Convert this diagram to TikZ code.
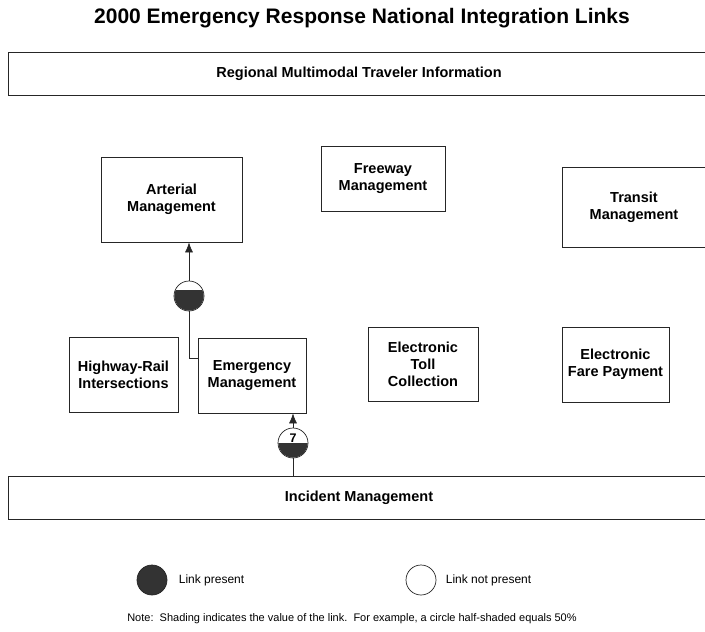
\documentclass[tikz,border=0pt]{standalone}
\usepackage{fontspec}
\setmainfont{Liberation Sans}
\usetikzlibrary{arrows.meta,positioning}

\begin{document}
\begin{tikzpicture}[x=1pt,y=-1pt,>=Latex,
sys box/.style={draw=black!85,line width=0.7pt,align=center,inner sep=0pt,font=\fontsize{14.5}{17}\selectfont\bfseries},
band box/.style={sys box,minimum width=702pt,minimum height=43pt},
link dot/.style={draw=black!85,line width=0.7pt,circle,minimum size=30pt,inner sep=0pt},
flow/.style={-{Latex[length=10pt,width=8pt]},line width=0.7pt,draw=black!85},
plain link/.style={line width=0.7pt,draw=black!85},
legend text/.style={anchor=west,font=\fontsize{12}{14}\selectfont}]
\useasboundingbox (0,0) rectangle (705,632);
\node[font=\fontsize{21}{25}\selectfont\bfseries] (title) at (362,18) {2000 Emergency Response National Integration Links};
% bands
\node[band box] (rmti) at (359,73.5) {Regional Multimodal Traveler Information};
\node[band box] (inc) at (359,497.5) {Incident Management};
% system boxes
\node[sys box,minimum width=141pt,minimum height=85pt] (art) at (171.5,199.5) {Arterial\\Management};
\node[sys box,minimum width=124pt,minimum height=65pt] (fwy) at (383,178.5) {Freeway\\Management};
\node[sys box,minimum width=144pt,minimum height=80pt] (trn) at (634,207) {Transit\\Management};
\node[sys box,minimum width=109pt,minimum height=75pt] (hwy) at (123.5,374.5) {Highway-Rail\\Intersections};
\node[sys box,minimum width=108pt,minimum height=75pt] (emg) at (252,375.5) {Emergency\\Management};
\node[sys box,minimum width=110pt,minimum height=74pt] (etc) at (423,364) {Electronic\\Toll\\Collection};
\node[sys box,minimum width=107pt,minimum height=75pt] (efp) at (615.5,364.5) {Electronic\\Fare Payment};
% links
\node[link dot] (c1) at (189,296) {};
\begin{scope}
\clip (189,296) circle (14.6);
\fill[black!80] (173,290) rectangle (205,312);
\end{scope}
\node[link dot] (c2) at (293,443) {};
\begin{scope}
\clip (293,443) circle (14.6);
\fill[black!80] (277,443) rectangle (309,459);
\end{scope}
\node[font=\fontsize{12.5}{13}\selectfont\bfseries] (c2num) at (293,438) {7};
\draw[flow] (c1.north) -- (c1.north |- art.south);
\draw[plain link] (c1.south) |- ([yshift=17.5pt]emg.west);
\draw[plain link] (inc.north -| c2) -- (c2.south);
\draw[flow] (c2.north) -- (c2.north |- emg.south);
% legend
\node[link dot,fill=black!80] (lp) at (152,580) {};
\node[legend text,right=8pt of lp] (lptext) {Link present};
\node[link dot] (lnp) at (421,580) {};
\node[legend text,right=6pt of lnp] (lnptext) {Link not present};
\node[font=\fontsize{11}{13}\selectfont] (note) at (352,619) {Note:\ \ Shading indicates the value of the link.\ \ For example, a circle half-shaded equals 50\%};
\end{tikzpicture}
\end{document}
